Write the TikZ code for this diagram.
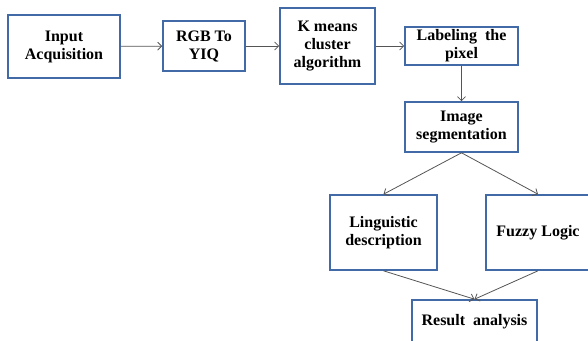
\documentclass[tikz,border=0pt]{standalone}
\usepackage{fontspec}
\setmainfont{Liberation Serif}
\newfontfamily\blockfont{Liberation Serif}
\usetikzlibrary{positioning,arrows.meta}
\definecolor{boxblue}{RGB}{66,106,166}
\definecolor{linegray}{RGB}{85,85,85}

\begin{document}
\begin{tikzpicture}[x=1pt,y=-1pt,
    block/.style={draw=boxblue,line width=1.6pt,fill=white,align=center,
        font=\fontsize{16}{18}\selectfont\blockfont\bfseries,inner sep=0pt},
    flow/.style={-{Straight Barb[length=4pt,width=8pt]},draw=linegray,line width=0.8pt}]
    % Canvas
    \useasboundingbox (0,0) rectangle (588,340);

    % Top row
    \node[block,minimum width=112pt,minimum height=63pt] (input) at (64,46.5) {Input\\Acquisition};
    \node[block,minimum width=82pt,minimum height=50pt] (rgb) at (204,46) {RGB To\\YIQ};
    \node[block,minimum width=95pt,minimum height=76pt] (kmeans) at (327.5,46) {K means\\cluster\\algorithm};
    \node[block,minimum width=113pt,minimum height=38pt] (label) at (461.5,46) {Labeling\ \ the\\pixel};

    % Middle
    \node[block,minimum width=113pt,minimum height=50pt] (seg) at (461.5,127) {Image\\segmentation};

    % Branches
    \node[block,minimum width=107pt,minimum height=75pt] (ling) at (383.5,232.5) {Linguistic\\description};
    \node[block,minimum width=104pt,minimum height=75pt] (fuzzy) at (538,232.5) {Fuzzy Logic};

    % Bottom
    \node[block,minimum width=125pt,minimum height=44pt] (result) at (474.5,322) {Result\ \ analysis};

    % Connectors
    \draw[flow] (input) -- (rgb);
    \draw[flow] (rgb) -- (kmeans);
    \draw[flow] (kmeans) -- (label);
    \draw[flow] (label) -- (seg);
    \draw[flow] (seg.south) -- (ling.north);
    \draw[flow] (seg.south) -- (fuzzy.north);
    \draw[flow] (ling.south) -- (result.north);
    \draw[flow] (fuzzy.south) -- (result.north);
\end{tikzpicture}
\end{document}
